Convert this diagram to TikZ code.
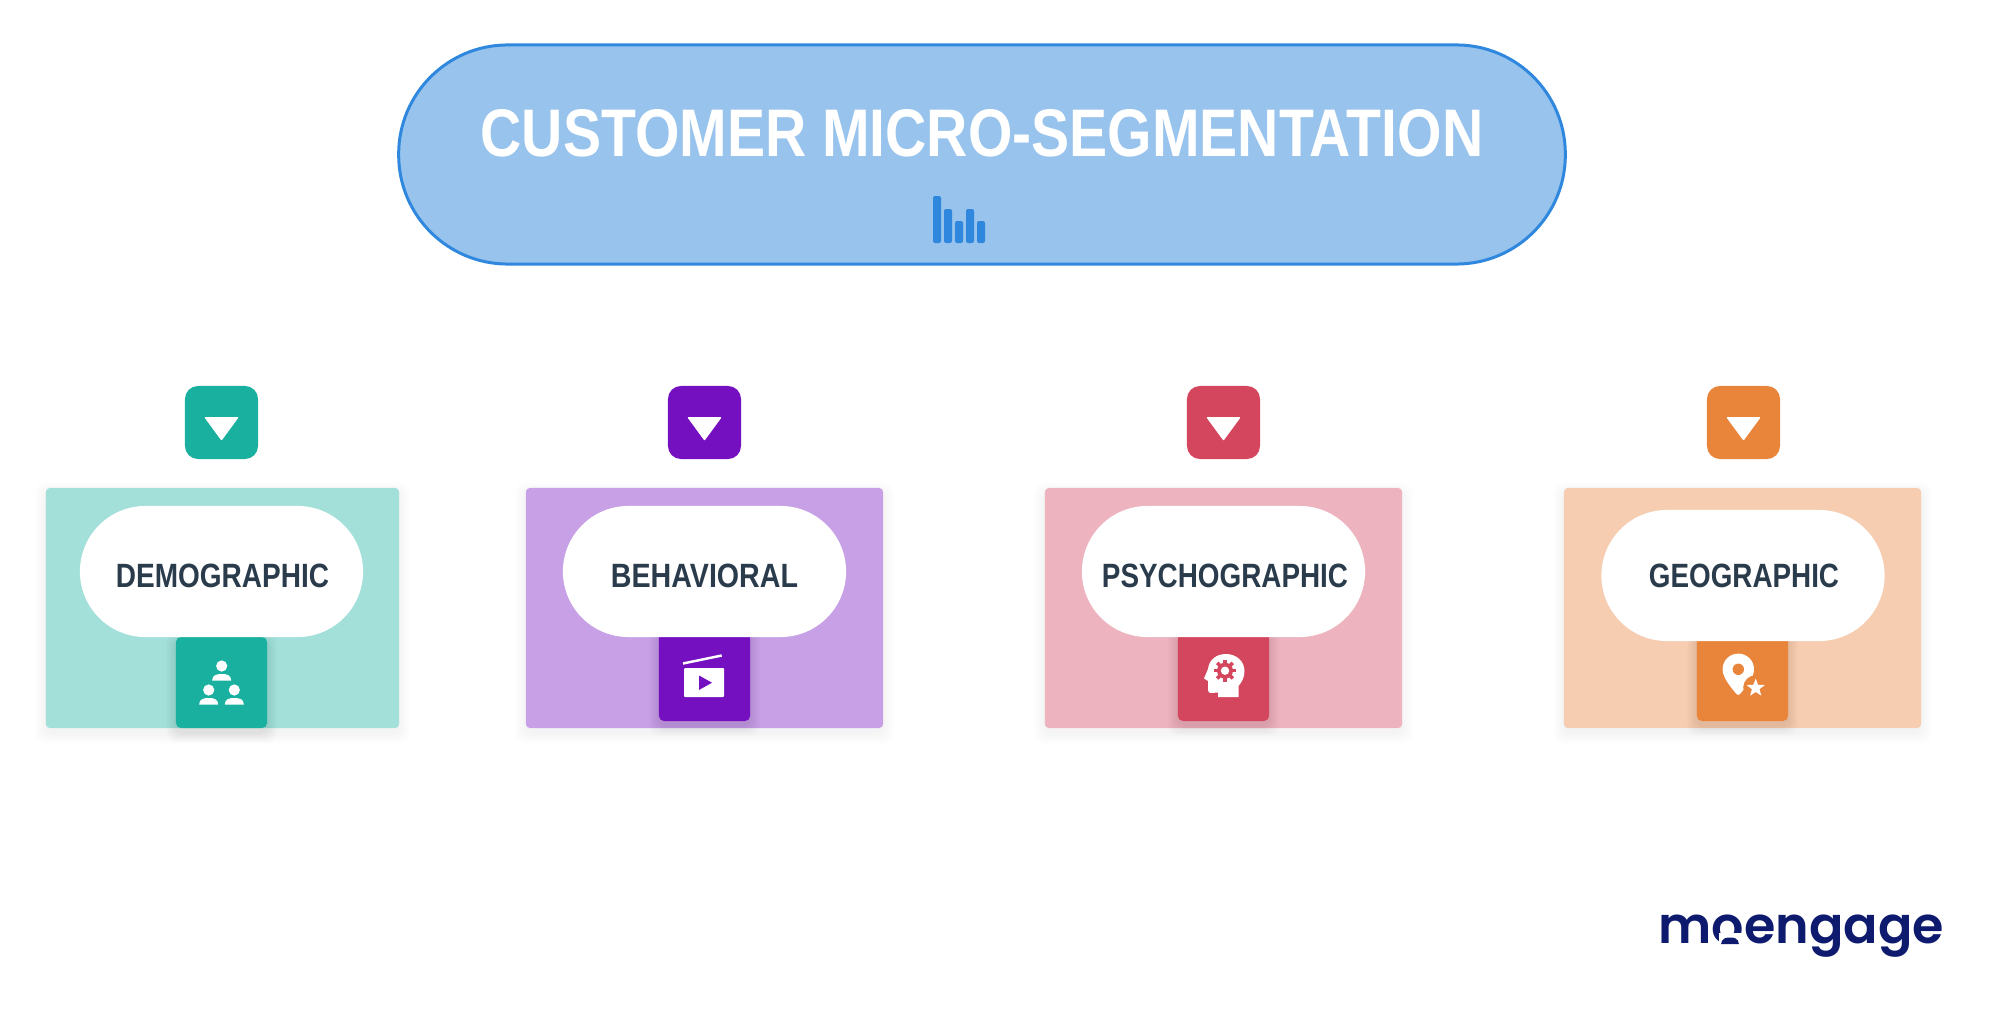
\documentclass[tikz,border=0pt]{standalone}
\usepackage{fontspec}
\usepackage{graphicx}
\setmainfont{Liberation Sans}
\newfontfamily\logofont{Poppins SemiBold}
\usetikzlibrary{shapes.geometric}
\definecolor{tealD}{HTML}{1AB09F}\definecolor{tealL}{HTML}{A3E0D9}
\definecolor{purpD}{HTML}{7410C0}\definecolor{purpL}{HTML}{C7A0E6}
\definecolor{redD}{HTML}{D4465D}\definecolor{redL}{HTML}{EDB4BF}
\definecolor{oraD}{HTML}{E9843B}\definecolor{oraL}{HTML}{F6CDB1}
\definecolor{titleF}{HTML}{97C3ED}\definecolor{titleS}{HTML}{2F88DE}
\definecolor{inkC}{HTML}{2A3B4C}\definecolor{logoC}{HTML}{0D1A6E}
\newcommand{\softshadow}[6]{%
  \foreach \s in {1,2,...,#5}{%
    \fill[black,opacity=#6,rounded corners=.1cm] ({#1-\s},{#2-\s+5}) rectangle ({#3+\s},{#4+\s+5});}}
\newcommand{\personicon}[2]{%
  \fill[white] (#1,#2) circle[radius=5.6];
  \fill[white] ({#1-9.5},{#2+14.5}) .. controls ({#1-9.5},{#2+9}) and ({#1-5},{#2+8}) .. (#1,{#2+8})
     .. controls ({#1+5},{#2+8}) and ({#1+9.5},{#2+9}) .. ({#1+9.5},{#2+14.5}) -- cycle;}
\newcommand{\downmark}[1]{%
  \fill[white,draw=white,line width=.4pt,line join=round] ({#1-16},417.7) -- ({#1+16},417.7) -- (#1,439.5) -- cycle;}
\tikzset{
  topbox/.style={rectangle,rounded corners=.13cm,minimum width=.73cm,minimum height=.73cm,inner sep=0},
  cardbox/.style={rectangle,rounded corners=.04cm,minimum height=2.40cm,inner sep=0},
  iconbox/.style={rectangle,rounded corners=.05cm,minimum width=.91cm,inner sep=0},
  labelpill/.style={rectangle,fill=white,rounded corners=.655cm,minimum width=2.83cm,minimum height=1.31cm,inner sep=0},
  seglabel/.style={inner sep=0,text=inkC}
}
\begin{document}
\begin{tikzpicture}[x=.01cm,y=-.01cm]
\useasboundingbox (0,0) rectangle (1999,1012);
\fill[white] (0,0) rectangle (1999,1012);
% title
\node[rectangle,fill=titleF,draw=titleS,line width=.85pt,rounded corners=1.09cm,minimum width=11.66cm,minimum height=2.19cm,inner sep=0] (titlepill) at (982,154.5) {};
\node[inner sep=0,text=white] (titletext) at (982,133) {\resizebox{10.02cm}{.47cm}{\bfseries CUSTOMER MICRO-SEGMENTATION}};
\foreach \a/\b/\t in {933/941/196,944/952/209,955/963/221,966/974/209,977/985/221}
  \fill[titleS,rounded corners=.02cm] (\a,\t) rectangle (\b,243);
% demographic
\node[topbox,fill=tealD] (t1) at (221.5,422.5) {};
\downmark{221.5}
\softshadow{46}{488}{399}{728}{11}{.004}
\node[cardbox,fill=tealL,minimum width=3.53cm] (c1) at (222.5,608) {};
\softshadow{176}{637}{267}{728}{10}{.008}
\node[iconbox,fill=tealD,minimum height=.91cm] (i1) at (221.5,682.5) {};
\node[labelpill] (p1) at (221.5,571.5) {};
\node[seglabel] (l1) at (222.5,575.5) {\resizebox{2.13cm}{.235cm}{\bfseries DEMOGRAPHIC}};
\personicon{221.7}{666}\personicon{208.7}{690}\personicon{234.3}{690}
% behavioral
\node[topbox,fill=purpD] (t2) at (704.5,422.5) {};
\downmark{704.5}
\softshadow{526}{488}{883}{728}{11}{.004}
\node[cardbox,fill=purpL,minimum width=3.57cm] (c2) at (704.5,608) {};
\softshadow{659}{630}{750}{721}{10}{.008}
\node[iconbox,fill=purpD,minimum height=.91cm] (i2) at (704.5,675.5) {};
\node[labelpill] (p2) at (704.5,571.5) {};
\node[seglabel] (l2) at (704.5,575.5) {\resizebox{1.87cm}{.235cm}{\bfseries BEHAVIORAL}};
\draw[white,line width=.7pt] (683,663.5) -- (721.7,655.5);
\fill[white,rounded corners=.01cm] (684,668) rectangle (724,697);
\fill[purpD] (699,675.5) -- (699,690) -- (712,682.7) -- cycle;
% psychographic
\node[topbox,fill=redD] (t3) at (1223.5,422.5) {};
\downmark{1223.5}
\softshadow{1045}{488}{1402}{728}{11}{.004}
\node[cardbox,fill=redL,minimum width=3.57cm] (c3) at (1223.5,608) {};
\softshadow{1178}{630}{1269}{721}{10}{.008}
\node[iconbox,fill=redD,minimum height=.91cm] (i3) at (1223.5,675.5) {};
\node[labelpill] (p3) at (1223.5,571.5) {};
\node[seglabel] (l3) at (1225,575.5) {\resizebox{2.46cm}{.235cm}{\bfseries PSYCHOGRAPHIC}};
\fill[white] (1238.5,697) -- (1238.5,686) .. controls (1242,682) and (1244.5,677) .. (1244.5,671)
  .. controls (1244.5,661) and (1236,654) .. (1226,654) .. controls (1216,654) and (1209,660) .. (1208,669)
  -- (1204,678.5) -- (1208,681) -- (1208,690) .. controls (1208,692) and (1209,693) .. (1211,693)
  -- (1218,692.5) -- (1218,697) -- cycle;
\foreach \q in {0,45,...,315}
  \draw[redD,line width=1pt] (1225,670.7) -- ++(\q:11);
\fill[redD] (1225,670.7) circle[radius=8];
\fill[white] (1225,670.7) circle[radius=4.2];
% geographic
\node[topbox,fill=oraD] (t4) at (1743.5,422.5) {};
\downmark{1743.5}
\softshadow{1564}{488}{1921}{728}{11}{.004}
\node[cardbox,fill=oraL,minimum width=3.57cm] (c4) at (1742.5,608) {};
\softshadow{1697}{630}{1788}{721}{10}{.008}
\node[iconbox,fill=oraD,minimum height=.91cm] (i4) at (1742.5,675.5) {};
\node[labelpill] (p4) at (1743,575.5) {};
\node[seglabel] (l4) at (1744,575.5) {\resizebox{1.90cm}{.235cm}{\bfseries GEOGRAPHIC}};
\fill[white] (1722.6,669.3) .. controls (1722.6,660.5) and (1729.5,653.6) .. (1738.3,653.6)
  .. controls (1747,653.6) and (1754,660.5) .. (1754,669.3) .. controls (1754,678) and (1745,688) .. (1740,694)
  .. controls (1739,695.3) and (1737.5,695.3) .. (1736.5,694) .. controls (1731.5,688) and (1722.6,678) .. (1722.6,669.3) -- cycle;
\fill[oraD] (1738.3,669.3) circle[radius=5.7];
\fill[oraD] (1755.7,687.7) circle[radius=12.5];
\node[star,star points=5,star point ratio=2.4,fill=white,minimum size=.19cm,inner sep=0] (pinstar) at (1755.7,688) {};
% logo
\node[inner sep=0,anchor=base west,text=logoC] (logo) at (1658,943) {\resizebox{2.85cm}{!}{\logofont moengage}};
\fill[white] (1719,933) rectangle (1741,948);
\fill[logoC] (1721,944) .. controls (1722,938) and (1726,937.5) .. (1730,937.5) .. controls (1734,937.5) and (1738,938) .. (1739,944) -- cycle;
\end{tikzpicture}
\end{document}
